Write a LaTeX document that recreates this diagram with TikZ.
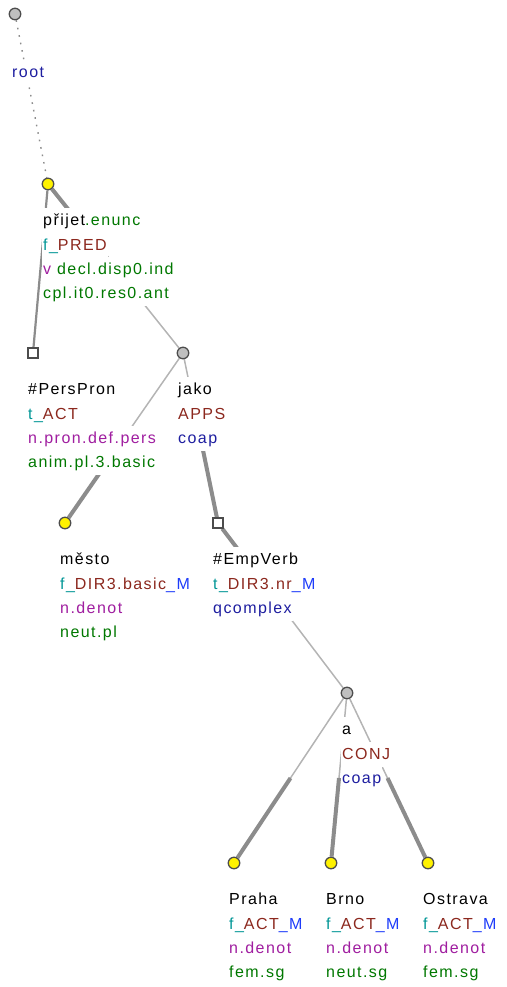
\documentclass[tikz,border=0pt]{standalone}
\usepackage{fontspec}
\setmainfont{Liberation Sans}[LetterSpace=9]
\usetikzlibrary{positioning,calc,backgrounds}
\definecolor{tfun}{RGB}{0,150,150}
\definecolor{tfrm}{RGB}{140,40,30}
\definecolor{tsub}{RGB}{30,60,250}
\definecolor{tpos}{RGB}{160,30,160}
\definecolor{tgram}{RGB}{0,120,0}
\definecolor{tnav}{RGB}{30,30,160}
\definecolor{edgegray}{RGB}{140,140,140}
\definecolor{thingray}{RGB}{180,180,180}
\begin{document}
\begin{tikzpicture}[x=1pt,y=-1pt, every node/.style={font=\fontsize{16}{19}\selectfont},
  dot/.style={circle,draw=black!70,line width=1.3pt,minimum size=11.5pt,inner sep=0pt},
  grey/.style={dot,fill=black!25},
  yel/.style={dot,fill=yellow},
  sq/.style={rectangle,draw=black!70,fill=white,line width=1.3pt,minimum size=10pt,inner sep=0pt},
  ln/.style={anchor=north west,fill=white,inner xsep=1pt,inner ysep=2pt,text height=15.5pt,text depth=5.5pt},
  thn/.style={thingray,line width=1.5pt},
  thk/.style={edgegray,line width=4pt},
  dep/.style={edgegray,line width=2.2pt},
  rootedge/.style={edgegray,line width=1.4pt,dash pattern=on 1.6pt off 6pt}]
\useasboundingbox (0,0) rectangle (506,987);
% tree nodes
\node[grey] (root) at (15,14) {};
\node[yel] (prj) at (48,184) {};
\node[sq] (pers) at (33,353) {};
\node[grey] (jako) at (183,353) {};
\node[yel] (mesto) at (65,523) {};
\node[sq] (emp) at (218,523) {};
\node[grey] (conj) at (347,693) {};
\node[yel] (praha) at (234,863) {};
\node[yel] (brno) at (331,863) {};
\node[yel] (ostr) at (428,863) {};
% edges
\begin{scope}[on background layer]
\draw[rootedge] (root) -- (prj);
\draw[dep] (prj) -- (pers);
\draw[thk] (prj) -- ($(prj)!0.5!(jako)$);
\draw[thn] ($(prj)!0.5!(jako)$) -- (jako);
\draw[thn] (jako) -- ($(jako)!0.5!(mesto)$);
\draw[thk] ($(jako)!0.5!(mesto)$) -- (mesto);
\draw[thn] (jako) -- ($(jako)!0.5!(emp)$);
\draw[thk] ($(jako)!0.5!(emp)$) -- (emp);
\draw[thk] (emp) -- ($(emp)!0.5!(conj)$);
\draw[thn] ($(emp)!0.5!(conj)$) -- (conj);
\draw[thn] (conj) -- ($(conj)!0.5!(praha)$);
\draw[thk] ($(conj)!0.5!(praha)$) -- (praha);
\draw[thn] (conj) -- ($(conj)!0.5!(brno)$);
\draw[thk] ($(conj)!0.5!(brno)$) -- (brno);
\draw[thn] (conj) -- ($(conj)!0.5!(ostr)$);
\draw[thk] ($(conj)!0.5!(ostr)$) -- (ostr);
\end{scope}
% labels
\node[ln,below right=45.5pt and -4pt of root.center] (root1) {\textcolor{tnav}{root}};
\node[ln,below right=24pt and -6pt of prj.center] (prj1) {přijet\textcolor{tgram}{.enunc}};
\node[ln] (prj2) at ([yshift=1pt]prj1.south west) {\textcolor{tfun}{f\_}\textcolor{tfrm}{PRED}};
\node[ln] (prj3) at ([yshift=1pt]prj2.south west) {\textcolor{tpos}{v} \textcolor{tgram}{decl.disp0.ind}};
\node[ln] (prj4) at ([yshift=1pt]prj3.south west) {\textcolor{tgram}{cpl.it0.res0.ant}};
\node[ln,below right=24pt and -6pt of pers.center] (pers1) {\#PersPron};
\node[ln] (pers2) at ([yshift=1pt]pers1.south west) {\textcolor{tfun}{t\_}\textcolor{tfrm}{ACT}};
\node[ln] (pers3) at ([yshift=1pt]pers2.south west) {\textcolor{tpos}{n.pron.def.pers}};
\node[ln] (pers4) at ([yshift=1pt]pers3.south west) {\textcolor{tgram}{anim.pl.3.basic}};
\node[ln,below right=24pt and -6pt of jako.center] (jako1) {jako};
\node[ln] (jako2) at ([yshift=1pt]jako1.south west) {\textcolor{tfrm}{APPS}};
\node[ln] (jako3) at ([yshift=1pt]jako2.south west) {\textcolor{tnav}{coap}};
\node[ln,below right=24pt and -6pt of mesto.center] (mesto1) {město};
\node[ln] (mesto2) at ([yshift=1pt]mesto1.south west) {\textcolor{tfun}{f\_}\textcolor{tfrm}{DIR3.basic}\textcolor{tsub}{\_M}};
\node[ln] (mesto3) at ([yshift=1pt]mesto2.south west) {\textcolor{tpos}{n.denot}};
\node[ln] (mesto4) at ([yshift=1pt]mesto3.south west) {\textcolor{tgram}{neut.pl}};
\node[ln,below right=24pt and -6pt of emp.center] (emp1) {\#EmpVerb};
\node[ln] (emp2) at ([yshift=1pt]emp1.south west) {\textcolor{tfun}{t\_}\textcolor{tfrm}{DIR3.nr}\textcolor{tsub}{\_M}};
\node[ln] (emp3) at ([yshift=1pt]emp2.south west) {\textcolor{tnav}{qcomplex}};
\node[ln,below right=24pt and -6pt of conj.center] (conj1) {a};
\node[ln] (conj2) at ([yshift=1pt]conj1.south west) {\textcolor{tfrm}{CONJ}};
\node[ln] (conj3) at ([yshift=1pt]conj2.south west) {\textcolor{tnav}{coap}};
\node[ln,below right=24pt and -6pt of praha.center] (praha1) {Praha};
\node[ln] (praha2) at ([yshift=1pt]praha1.south west) {\textcolor{tfun}{f\_}\textcolor{tfrm}{ACT}\textcolor{tsub}{\_M}};
\node[ln] (praha3) at ([yshift=1pt]praha2.south west) {\textcolor{tpos}{n.denot}};
\node[ln] (praha4) at ([yshift=1pt]praha3.south west) {\textcolor{tgram}{fem.sg}};
\node[ln,below right=24pt and -6pt of brno.center] (brno1) {Brno};
\node[ln] (brno2) at ([yshift=1pt]brno1.south west) {\textcolor{tfun}{f\_}\textcolor{tfrm}{ACT}\textcolor{tsub}{\_M}};
\node[ln] (brno3) at ([yshift=1pt]brno2.south west) {\textcolor{tpos}{n.denot}};
\node[ln] (brno4) at ([yshift=1pt]brno3.south west) {\textcolor{tgram}{neut.sg}};
\node[ln,below right=24pt and -6pt of ostr.center] (ostr1) {Ostrava};
\node[ln] (ostr2) at ([yshift=1pt]ostr1.south west) {\textcolor{tfun}{f\_}\textcolor{tfrm}{ACT}\textcolor{tsub}{\_M}};
\node[ln] (ostr3) at ([yshift=1pt]ostr2.south west) {\textcolor{tpos}{n.denot}};
\node[ln] (ostr4) at ([yshift=1pt]ostr3.south west) {\textcolor{tgram}{fem.sg}};
\end{tikzpicture}
\end{document}
